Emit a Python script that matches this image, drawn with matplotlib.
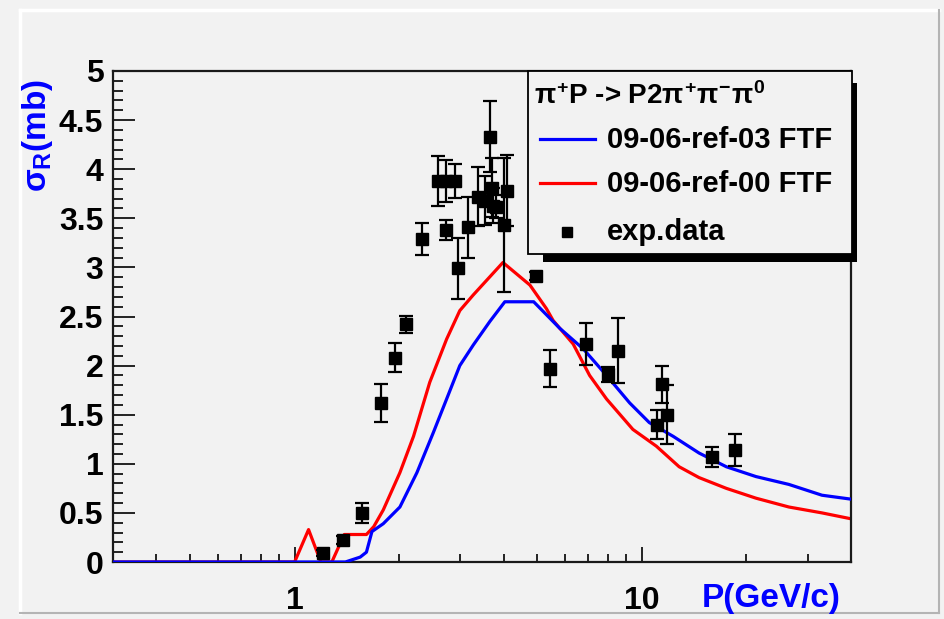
import numpy as np
import matplotlib
matplotlib.use("Agg")
import matplotlib.pyplot as plt
from matplotlib.ticker import FixedLocator, LogLocator, NullFormatter, FuncFormatter
from matplotlib.patches import Rectangle
from matplotlib.lines import Line2D

plt.rcParams['font.family'] = ['Liberation Sans', 'DejaVu Sans']
plt.rcParams['font.weight'] = 'bold'
plt.rcParams['mathtext.fontset'] = 'custom'
plt.rcParams['mathtext.rm'] = 'Liberation Sans'
plt.rcParams['mathtext.it'] = 'Liberation Sans'
plt.rcParams['mathtext.bf'] = 'Liberation Sans:bold'

# model curves: P (GeV/c), sigma (mb)
p_ref00 = [0.3, 1.0, 1.097, 1.19, 1.28, 1.39, 1.61, 1.69, 1.80, 2.01, 2.20, 2.45, 2.74, 2.99,
           3.27, 3.98, 4.76, 5.31, 5.55, 6.34, 7.07, 7.91, 9.42, 11.0, 12.8, 14.6, 17.5,
           21.3, 26.5, 33.0, 40.0]
s_ref00 = [0, 0, 0.33, 0, 0, 0.28, 0.28, 0.36, 0.53, 0.91, 1.28, 1.83, 2.27, 2.56,
           2.72, 3.05, 2.82, 2.58, 2.46, 2.22, 1.90, 1.66, 1.35, 1.18, 0.97, 0.86, 0.75,
           0.65, 0.56, 0.50, 0.44]

p_ref03 = [0.3, 1.40, 1.545, 1.61, 1.67, 1.80, 2.01, 2.25, 2.51, 2.74, 2.99, 3.27, 3.65,
           4.03, 4.88, 5.80, 6.78, 7.91, 9.22, 10.5, 12.3, 14.6, 17.5, 21.3, 26.5, 33.0, 40.0]
s_ref03 = [0, 0, 0.05, 0.10, 0.31, 0.39, 0.56, 0.91, 1.32, 1.66, 2.0, 2.21, 2.45,
           2.65, 2.65, 2.38, 2.17, 1.90, 1.62, 1.42, 1.28, 1.11, 0.97, 0.87, 0.79, 0.68, 0.64]

# experimental points
p_exp = [1.21, 1.38, 1.56, 1.77, 1.95, 2.09, 2.32, 2.59, 2.73, 2.73, 2.90, 2.95, 3.15,
         3.38, 3.54, 3.65, 3.69, 3.72, 3.80, 4.09, 4.00, 4.95, 5.43, 6.92, 7.99, 8.53,
         11.04, 11.42, 11.80, 15.9, 18.5]
s_exp = [0.09, 0.22, 0.50, 1.62, 2.08, 2.42, 3.29, 3.88, 3.88, 3.38, 3.88, 2.99, 3.41,
         3.72, 3.68, 4.33, 3.81, 3.63, 3.62, 3.78, 3.43, 2.91, 1.97, 2.22, 1.91, 2.15,
         1.40, 1.81, 1.50, 1.07, 1.14]
e_exp = [0.03, 0.04, 0.10, 0.19, 0.15, 0.09, 0.16, 0.25, 0.21, 0.10, 0.17, 0.31, 0.31,
         0.30, 0.25, 0.36, 0.30, 0.18, 0.12, 0.36, 0.68, 0.04, 0.19, 0.21, 0.08, 0.33,
         0.15, 0.19, 0.30, 0.10, 0.16]

W, H = 945, 619
bg = '#f2f2f2'


def fx(px):
    return px / W


def fy(py):
    return 1 - py / H


fig = plt.figure(figsize=(9.45, 6.19), dpi=100, facecolor=bg)
ax = fig.add_axes([fx(113), fy(562), fx(851) - fx(113), fy(71) - fy(562)], facecolor=bg)

ax.plot(p_ref00, s_ref00, color='#ff0000', lw=2.3, zorder=2)
ax.plot(p_ref03, s_ref03, color='#0000ff', lw=2.3, zorder=3)
ax.errorbar(p_exp, s_exp, yerr=e_exp, fmt='s', color='black', ms=9,
            elinewidth=1.6, capsize=5, capthick=1.6, zorder=4)

ax.set_xscale('log')
ax.set_xlim(0.3, 40)
ax.set_ylim(0, 5)

ax.xaxis.set_major_locator(FixedLocator([1, 10]))
ax.xaxis.set_major_formatter(FuncFormatter(lambda v, p: f'{v:g}'))
ax.xaxis.set_minor_locator(LogLocator(base=10, subs=np.arange(2, 10)))
ax.xaxis.set_minor_formatter(NullFormatter())
ax.set_yticks(np.arange(0, 5.01, 0.5))
ax.set_yticks(np.arange(0, 5.01, 0.1), minor=True)
ax.yaxis.set_major_formatter(FuncFormatter(lambda v, p: f'{v:g}'))

ax.tick_params(axis='both', which='both', direction='in', color='black', width=1.2)
ax.tick_params(axis='y', which='major', length=16, pad=7, labelsize=23)
ax.tick_params(axis='y', which='minor', length=7.5)
ax.tick_params(axis='x', which='major', length=11, pad=17, labelsize=23)
ax.tick_params(axis='x', which='minor', length=6)
for sp in ax.spines.values():
    sp.set_linewidth(1.6)
    sp.set_color('#1a1a1a')

fig.text(fx(38), fy(79), r'$\sigma_{R}$(mb)', color='#0000ff', fontsize=24,
         rotation=90, ha='center', va='top')
fig.text(fx(841), fy(599), 'P(GeV/c)', color='#0000ff', fontsize=24,
         ha='right', va='center')

# canvas bevel
fig.lines.append(Line2D([fx(20), fx(20)], [fy(10), fy(613)], color='white', lw=2.5, transform=fig.transFigure))
fig.lines.append(Line2D([fx(20), fx(939)], [fy(10), fy(10)], color='white', lw=2.5, transform=fig.transFigure))
fig.lines.append(Line2D([fx(939), fx(939)], [fy(10), fy(613)], color='#b4b4b4', lw=1.5, transform=fig.transFigure))
fig.lines.append(Line2D([fx(20), fx(939)], [fy(613), fy(613)], color='#b4b4b4', lw=1.5, transform=fig.transFigure))

# legend box with ROOT-style shadow
fig.patches.append(Rectangle((fx(543), fy(262)), fx(857) - fx(543), fy(83) - fy(262),
                             transform=fig.transFigure, facecolor='black', edgecolor='none', zorder=5))
fig.patches.append(Rectangle((fx(528), fy(254)), fx(852) - fx(528), fy(71) - fy(254),
                             transform=fig.transFigure, facecolor=bg, edgecolor='black', lw=1.3, zorder=6))
fig.text(fx(534), fy(96), r'$\pi^{+}$P -> P2$\pi^{+}\pi^{\mathrm{-}}\pi^{0}$', fontsize=20,
         ha='left', va='center', zorder=7)
fig.lines.append(Line2D([fx(540), fx(595)], [fy(139), fy(139)], color='#0000ff', lw=2.3,
                        transform=fig.transFigure, zorder=7))
fig.text(fx(607), fy(140), '09-06-ref-03 FTF', fontsize=21, ha='left', va='center', zorder=7)
fig.lines.append(Line2D([fx(540), fx(595)], [fy(183), fy(183)], color='#ff0000', lw=2.3,
                        transform=fig.transFigure, zorder=7))
fig.text(fx(607), fy(184), '09-06-ref-00 FTF', fontsize=21, ha='left', va='center', zorder=7)
fig.lines.append(Line2D([fx(567)], [fy(232)], marker='s', ms=7, color='black', lw=0,
                        transform=fig.transFigure, zorder=7))
fig.text(fx(607), fy(232), 'exp.data', fontsize=21, ha='left', va='center', zorder=7)

fig.savefig('out.png', dpi=100, facecolor=bg)
